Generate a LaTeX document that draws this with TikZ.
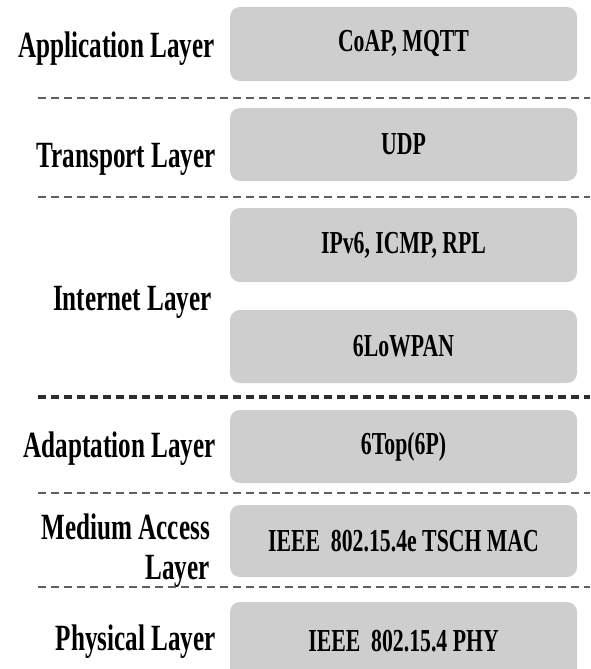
\documentclass[tikz,border=0pt]{standalone}
\usepackage{fontspec}
% Condensed bold serif used for every label
\newfontfamily\layerfont[FakeStretch=0.68]{Liberation Serif}
\definecolor{boxgray}{RGB}{207,206,207}
\definecolor{sepgray}{RGB}{95,95,95}
\definecolor{sepdark}{RGB}{45,45,45}
\tikzset{
  layerbox/.style={fill=boxgray, draw=none, rounded corners=10pt,
    minimum width=347pt, inner sep=0pt,
    font=\layerfont\bfseries\fontsize{32}{36}\selectfont},
  layerlabel/.style={align=right, inner sep=0pt,
    font=\layerfont\bfseries\fontsize{37}{40}\selectfont},
  sepline/.style={draw=sepgray, line width=2.2pt, dash pattern=on 8pt off 5pt},
  sepbold/.style={draw=sepdark, line width=3.6pt, dash pattern=on 8pt off 5pt},
}
\begin{document}
\begin{tikzpicture}[x=1pt, y=-1pt]
  \useasboundingbox (0,0) rectangle (590,669);
  \clip (0,0) rectangle (590,669);

  % protocol boxes
  \node[layerbox, minimum height=74pt] (app)  at (403.5,44)    {CoAP, MQTT};
  \node[layerbox, minimum height=73pt] (udp)  at (403.5,144.5) {UDP};
  \node[layerbox, minimum height=74pt] (ipv6) at (403.5,245)   {IPv6, ICMP, RPL};
  \node[layerbox, minimum height=73pt] (lowpan) at (403.5,346.5) {6LoWPAN};
  \node[layerbox, minimum height=73pt] (sixtop) at (403.5,446.5) {6Top(6P)};
  \node[layerbox, minimum height=72pt] (tsch) at (403.5,541)   {IEEE\ \ 802.15.4e TSCH\ MAC};
  \node[layerbox, minimum height=78pt] (phy)  at (403.5,641)   {IEEE\ \ 802.15.4 PHY};

  % layer names
  \node[layerlabel, anchor=base east] (lapp) at (215,58)  {Application Layer};
  \node[layerlabel, anchor=base east] (ltra) at (216,167) {Transport\,Layer};
  \node[layerlabel, anchor=base east] (lint) at (212,310) {Internet Layer};
  \node[layerlabel, anchor=base east] (lada) at (216,457) {Adaptation Layer};
  \node[layerlabel, anchor=east]      (lmac) at (210,551) {Medium Access\\Layer};
  \node[layerlabel, anchor=base east] (lphy) at (216,650) {Physical\,Layer};

  % separators between layers
  \coordinate (s1a) at (38,98);  \coordinate (s1b) at (590,98);
  \coordinate (s2a) at (38,197); \coordinate (s2b) at (590,197);
  \coordinate (s3a) at (38,397); \coordinate (s3b) at (590,397);
  \coordinate (s4a) at (38,493); \coordinate (s4b) at (590,493);
  \coordinate (s5a) at (38,587); \coordinate (s5b) at (590,587);
  \draw[sepline] (s1a) -- (s1b);
  \draw[sepline] (s2a) -- (s2b);
  \draw[sepbold] (s3a) -- (s3b);
  \draw[sepline] (s4a) -- (s4b);
  \draw[sepline] (s5a) -- (s5b);
\end{tikzpicture}
\end{document}
